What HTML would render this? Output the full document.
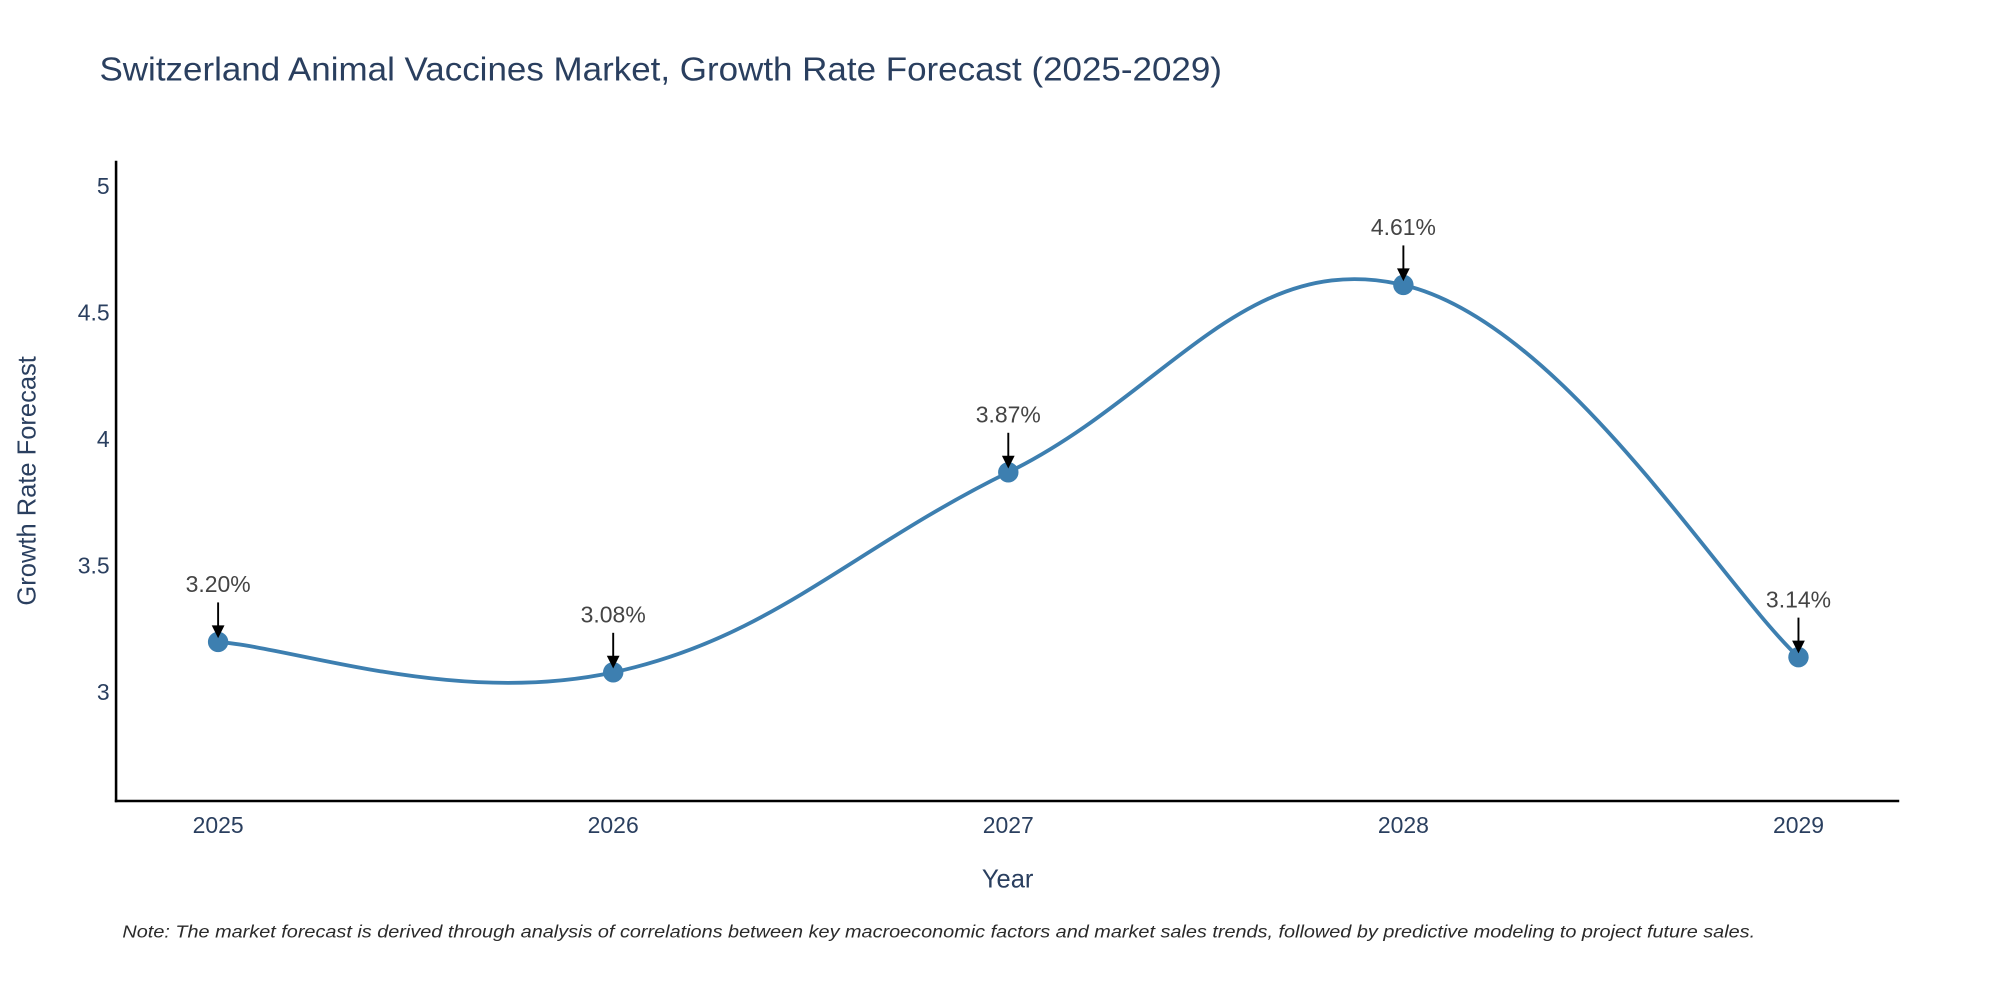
<!DOCTYPE html>
<html><head><meta charset="utf-8"><style>
html,body{margin:0;padding:0;background:#fff;}
svg{display:block;font-family:"Liberation Sans",sans-serif;}
</style></head><body>
<svg id="chart" width="2000" height="1000" viewBox="0 0 1568 784" xmlns="http://www.w3.org/2000/svg">
<rect width="1568" height="784" fill="#fff"/>
<text x="78" y="63" font-size="26" fill="#2a3f5f" textLength="880" lengthAdjust="spacingAndGlyphs">Switzerland Animal Vaccines Market, Growth Rate Forecast (2025-2029)</text>
<g id="yticks"></g>
<g id="xticks"></g>
<line x1="91" y1="126" x2="91" y2="629" stroke="#000" stroke-width="2"/>
<line x1="90" y1="628" x2="1489" y2="628" stroke="#000" stroke-width="2"/>
<text transform="translate(28,377) rotate(-90)" text-anchor="middle" font-size="20" fill="#2a3f5f">Growth Rate Forecast</text>
<text x="790" y="696" text-anchor="middle" font-size="20" fill="#2a3f5f">Year</text>
<g id="series"></g>
<text x="96" y="735" font-size="14" font-style="italic" fill="#2a2a2a" textLength="1280" lengthAdjust="spacingAndGlyphs">Note: The market forecast is derived through analysis of correlations between key macroeconomic factors and market sales trends, followed by predictive modeling to project future sales.</text>
</svg>
<script>
const years = [2025, 2026, 2027, 2028, 2029];
const values = [3.20, 3.08, 3.87, 4.61, 3.14];
const labels = ["3.20%", "3.08%", "3.87%", "4.61%", "3.14%"];
const yTicks = [3, 3.5, 4, 4.5, 5];
const yTickLabels = ["3", "3.5", "4", "4.5", "5"];

const NS = "http://www.w3.org/2000/svg";
function xs(v){ return 171 + (v - 2025) * 309.75; }
function ys(v){ return 543 - (v - 3) * 198.5; }
function mk(tag, attrs, parent){
  const e = document.createElementNS(NS, tag);
  for (const k in attrs) e.setAttribute(k, attrs[k]);
  parent.appendChild(e); return e;
}
const yg = document.getElementById('yticks');
yTicks.forEach((t,i)=>{
  const el = mk('text', {x:86, y:ys(t)+6, 'text-anchor':'end', 'font-size':18, fill:'#2a3f5f'}, yg);
  el.textContent = yTickLabels[i];
  
  
});
const xg = document.getElementById('xticks');
years.forEach(y=>{
  const el = mk('text', {x:xs(y), y:653, 'text-anchor':'middle', 'font-size':18, fill:'#2a3f5f'}, xg);
  el.textContent = String(y);
  
  
});
const sg = document.getElementById('series');
const pts = years.map((y,i)=>[xs(y), ys(values[i])]);
let d = `M${pts[0][0]},${pts[0][1]}`;
const k = 0.2;
for (let i=0;i<pts.length-1;i++){
  const p0 = pts[Math.max(i-1,0)], p1 = pts[i], p2 = pts[i+1], p3 = pts[Math.min(i+2,pts.length-1)];
  const c1 = [p1[0]+(p2[0]-p0[0])*k, p1[1]+(p2[1]-p0[1])*k];
  const c2 = [p2[0]-(p3[0]-p1[0])*k, p2[1]-(p3[1]-p1[1])*k];
  d += ` C${c1[0]},${c1[1]} ${c2[0]},${c2[1]} ${p2[0]},${p2[1]}`;
}
const line = mk('path', {d:d, fill:'none', stroke:'#3d7fb0', 'stroke-width':3}, sg);


pts.forEach((p,i)=>{
  const c = mk('circle', {cx:p[0], cy:p[1], r:8, fill:'#3d7fb0'}, sg);
  
  
  const a = mk('line', {x1:p[0], y1:p[1]-31, x2:p[0], y2:p[1]-10, stroke:'#000', 'stroke-width':1.5}, sg);
  
  
  const h = mk('polygon', {points:`${p[0]-5},${p[1]-13} ${p[0]+5},${p[1]-13} ${p[0]},${p[1]-3}`, fill:'#000'}, sg);
  
  
  const t = mk('text', {x:p[0], y:p[1]-39, 'text-anchor':'middle', 'font-size':18, fill:'#444'}, sg);
  t.textContent = labels[i];
  
  
});
</script>
</body></html>
